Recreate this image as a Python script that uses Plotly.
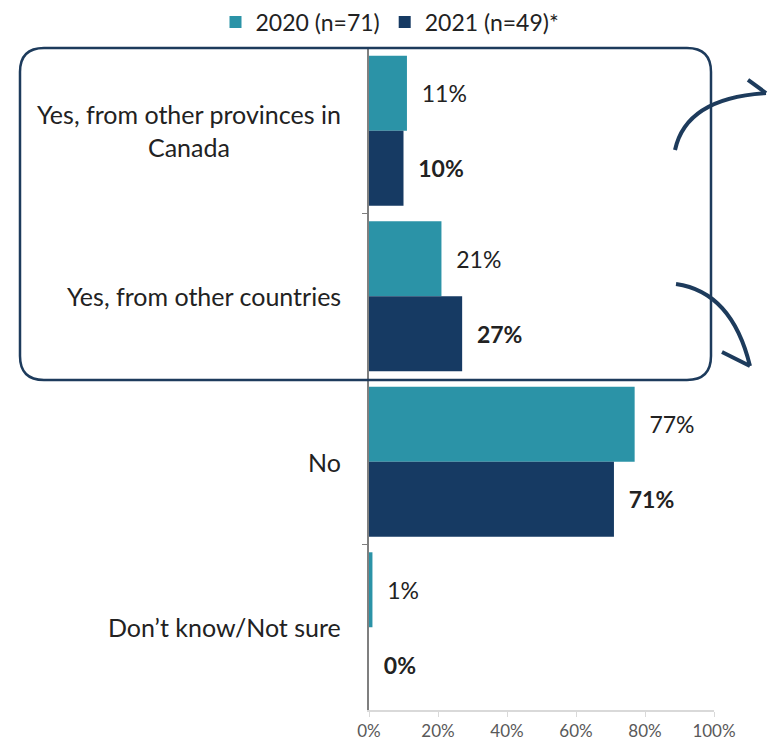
import plotly.graph_objects as go

# Survey responses (percent of respondents)
categories = [
    "Yes, from other provinces in<br>Canada",
    "Yes, from other countries",
    "No",
    "Don\u2019t know/Not sure",
]
values_2020 = [11, 21, 77, 1]
values_2021 = [10, 27, 71, 0]
series_names = ["2020 (n=71)", "2021 (n=49)*"]
x_ticks = [0, 20, 40, 60, 80, 100]
x_tick_labels = ["0%", "20%", "40%", "60%", "80%", "100%"]

TEAL = "#2b93a7"
NAVY = "#163a63"
OUTLINE = "#1d3b5c"
TEXT = "#222222"
FONT = "Lato"

W, H = 769, 746
L, R, T, B = 369, 55, 48, 36
PW, PH = W - L - R, H - T - B


def px(x, y):
    """Pixel position -> paper coordinates."""
    return (x - L) / PW, (H - B - y) / PH


def path(points, closed=False):
    parts = []
    for cmd, pts in points:
        coords = " ".join("%.4f,%.4f" % px(*p) for p in pts)
        parts.append(cmd + " " + coords)
    return " ".join(parts) + (" Z" if closed else "")


labels_2020 = ["\u00a0\u00a0%d%%" % v for v in values_2020]
labels_2021 = ["\u00a0\u00a0<b>%d%%</b>" % v for v in values_2021]

fig = go.Figure()
fig.add_trace(go.Bar(
    y=categories, x=values_2020, name=series_names[0], orientation="h",
    marker=dict(color=TEAL, line=dict(width=0)),
    text=labels_2020, texttemplate="%{text}", textposition="outside",
    textfont=dict(family=FONT, size=23, color=TEXT),
    cliponaxis=False, hoverinfo="x+name",
))
fig.add_trace(go.Bar(
    y=categories, x=values_2021, name=series_names[1], orientation="h",
    marker=dict(color=NAVY, line=dict(width=0)),
    text=labels_2021, texttemplate="%{text}", textposition="outside",
    textfont=dict(family=FONT, size=23, color=TEXT),
    cliponaxis=False, hoverinfo="x+name",
))

# Category labels, centred line by line
annotations = []
for c in categories:
    annotations.append(dict(
        x=(343 - L) / PW, xref="paper", y=c, yref="y",
        text=c, showarrow=False, xanchor="right", align="center",
        font=dict(family=FONT, size=25, color=TEXT),
    ))

# Rounded box around the "Yes" responses
x0, x1, y0, y1, r = 20, 711, 48, 380, 24
box = path([
    ("M", [(x0 + r, y0)]),
    ("L", [(x1 - r, y0)]),
    ("Q", [(x1, y0), (x1, y0 + r)]),
    ("L", [(x1, y1 - r)]),
    ("Q", [(x1, y1), (x1 - r, y1)]),
    ("L", [(x0 + r, y1)]),
    ("Q", [(x0, y1), (x0, y1 - r)]),
    ("L", [(x0, y0 + r)]),
    ("Q", [(x0, y0), (x0 + r, y0)]),
], closed=True)

shapes = [dict(type="path", path=box, xref="paper", yref="paper",
               line=dict(color=OUTLINE, width=2.5), layer="above")]

# Curved arrows to the right of the box
arrow_up = path([("M", [(675, 150)]), ("Q", [(686, 98), (766, 93)])])
head_up = path([("M", [(748, 80)]), ("L", [(766, 93), (754, 117)])])
arrow_dn = path([("M", [(676, 284)]), ("Q", [(732, 292), (750, 366)])])
head_dn = path([("M", [(722, 352)]), ("L", [(750, 366), (756, 340)])])
for p in (arrow_up, head_up, arrow_dn, head_dn):
    shapes.append(dict(type="path", path=p, xref="paper", yref="paper",
                       line=dict(color=OUTLINE, width=4), layer="above"))

fig.update_layout(
    width=W, height=H,
    margin=dict(l=L, r=R, t=T, b=B, pad=0, autoexpand=False),
    paper_bgcolor="white", plot_bgcolor="white",
    barmode="group", bargap=0.094, bargroupgap=0,
    font=dict(family=FONT, size=23, color=TEXT),
    legend=dict(
        orientation="h", xref="container", yref="container",
        x=390 / W, xanchor="center", y=1 - 22 / H, yanchor="middle",
        font=dict(family=FONT, size=23, color=TEXT),
        itemwidth=30, traceorder="normal", tracegroupgap=0,
    ),
    annotations=annotations,
    shapes=shapes,
    showlegend=True,
)
fig.update_xaxes(
    range=[0, 100], tickvals=x_ticks, ticktext=x_tick_labels,
    showgrid=False, zeroline=False,
    showline=True, linecolor="#d9d9d9", linewidth=1.5,
    ticks="outside", ticklen=5, tickcolor="#d9d9d9",
    tickfont=dict(family=FONT, size=17, color="#595959"),
)
fig.update_yaxes(
    autorange="reversed", showticklabels=False,
    showgrid=False, zeroline=False,
    showline=True, linecolor="#7f7f7f", linewidth=1.5,
    ticks="outside", ticklen=5, tickcolor="#7f7f7f", tickson="boundaries",
)

fig.write_html("out.html")
